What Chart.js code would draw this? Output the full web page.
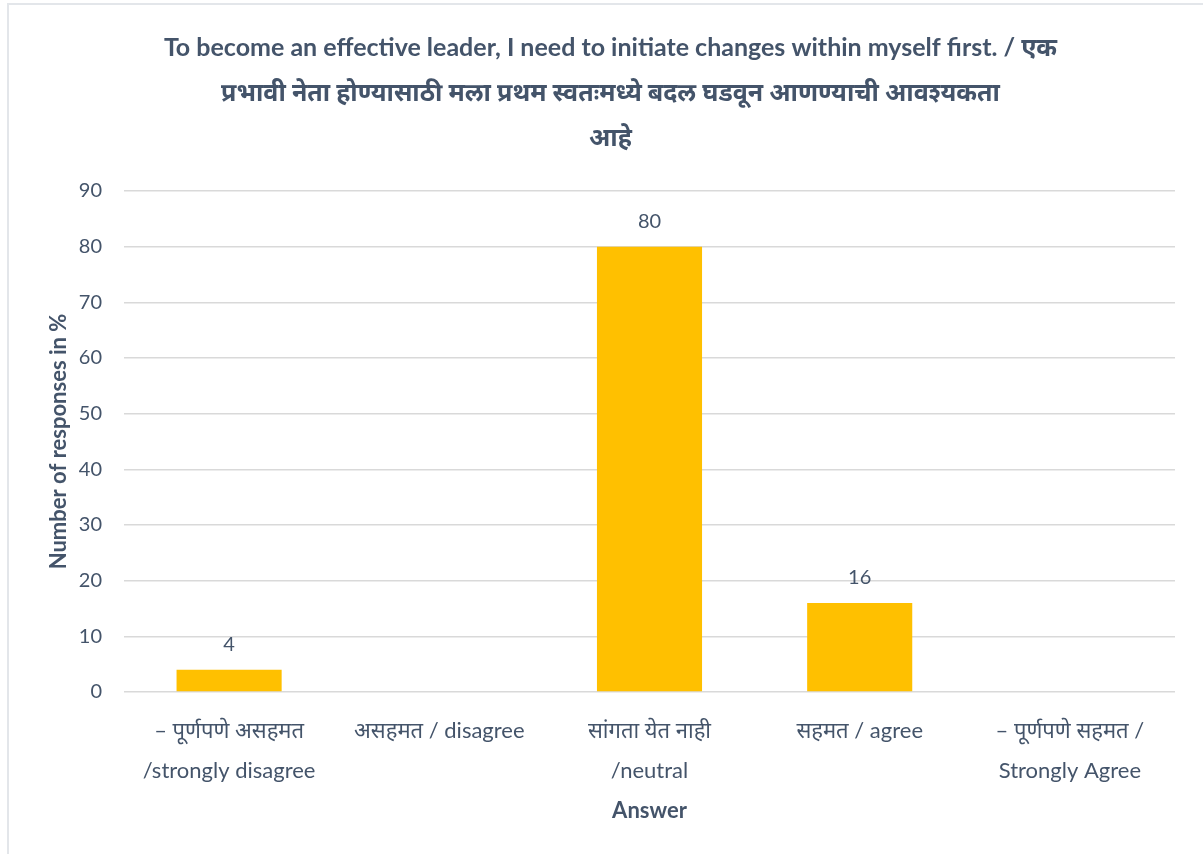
<!DOCTYPE html>
<html lang="mr">
<head>
    <meta charset="UTF-8">
    <title>Effective leader survey</title>
    <script src="https://cdn.jsdelivr.net/npm/chart.js"></script>
    <style>
        body, html {
            margin: 0;
            padding: 0;
            background: #ffffff;
        }
        .frame {
            position: absolute;
            left: 7px;
            top: 3px;
            width: 1210px;
            height: 870px;
            border: 2px solid #e3e6ea;
            box-sizing: border-box;
        }
        .wrap {
            position: absolute;
            left: 0;
            top: 0;
            width: 1203px;
            height: 854px;
        }
    </style>
</head>
<body>
    <div class="frame"></div>
    <div class="wrap"><canvas id="answerChart" width="1203" height="854"></canvas></div>

    <script>
        const answers = [
            ['– पूर्णपणे असहमत', '/strongly disagree'],
            'असहमत / disagree',
            ['सांगता येत नाही', '/neutral'],
            'सहमत / agree',
            ['– पूर्णपणे सहमत /', 'Strongly Agree']
        ];
        const responses = [4, 0, 80, 16, 0];
        const titleLines = [
            'To become an effective leader, I need to initiate changes within myself first. / एक',
            'प्रभावी नेता होण्यासाठी मला प्रथम स्वतःमध्ये बदल घडवून आणण्याची आवश्यकता',
            'आहे'
        ];

        const textColor = '#44546a';
        const fontFamily = "Lato, 'Noto Sans', sans-serif";

        // writes the value above each non-zero bar
        const valueLabels = {
            id: 'valueLabels',
            afterDatasetsDraw(chart) {
                const ctx = chart.ctx;
                const meta = chart.getDatasetMeta(0);
                ctx.save();
                ctx.font = '20px ' + fontFamily;
                ctx.fillStyle = textColor;
                ctx.textAlign = 'center';
                ctx.textBaseline = 'middle';
                meta.data.forEach((bar, i) => {
                    const v = chart.data.datasets[0].data[i];
                    if (!v) return;
                    ctx.fillText(v, bar.x, bar.y - 25);
                });
                ctx.restore();
            }
        };

        const ctx = document.getElementById('answerChart').getContext('2d');
        const answerChart = new Chart(ctx, {
            type: 'bar',
            data: {
                labels: answers,
                datasets: [{
                    label: 'Responses',
                    data: responses,
                    backgroundColor: '#ffc000',
                    categoryPercentage: 1.0,
                    barPercentage: 0.5
                }]
            },
            options: {
                responsive: false,
                animation: false,
                layout: {
                    padding: { left: 46, right: 28, top: 0, bottom: 30 }
                },
                plugins: {
                    legend: { display: false },
                    tooltip: { enabled: false },
                    title: {
                        display: true,
                        text: titleLines,
                        color: textColor,
                        font: { family: fontFamily, size: 25, weight: 'bold', lineHeight: '45px' },
                        padding: { top: 25, bottom: 31 }
                    }
                },
                scales: {
                    x: {
                        grid: { display: false },
                        border: { display: false },
                        ticks: {
                            color: textColor,
                            font: { family: fontFamily, size: 22, lineHeight: '40px' },
                            maxRotation: 0,
                            autoSkip: false,
                            padding: 11
                        },
                        title: {
                            display: true,
                            text: 'Answer',
                            color: textColor,
                            font: { family: fontFamily, size: 22, weight: 'bold' },
                            padding: { top: 0, bottom: 0 }
                        },
                        afterFit(scale) {
                            scale.height = 132;
                        }
                    },
                    y: {
                        min: 0,
                        max: 90,
                        ticks: {
                            stepSize: 10,
                            color: textColor,
                            font: { family: fontFamily, size: 20 },
                            padding: 22
                        },
                        grid: {
                            color: '#d9d9d9',
                            lineWidth: 1.5,
                            drawTicks: false
                        },
                        border: { display: false },
                        title: {
                            display: true,
                            text: 'Number of responses in %',
                            color: textColor,
                            font: { family: fontFamily, size: 22, weight: 'bold' },
                            padding: { top: 0, bottom: 10 }
                        },
                        afterFit(scale) {
                            scale.width = 78;
                        }
                    }
                }
            },
            plugins: [valueLabels]
        });
    </script>
</body>
</html>
